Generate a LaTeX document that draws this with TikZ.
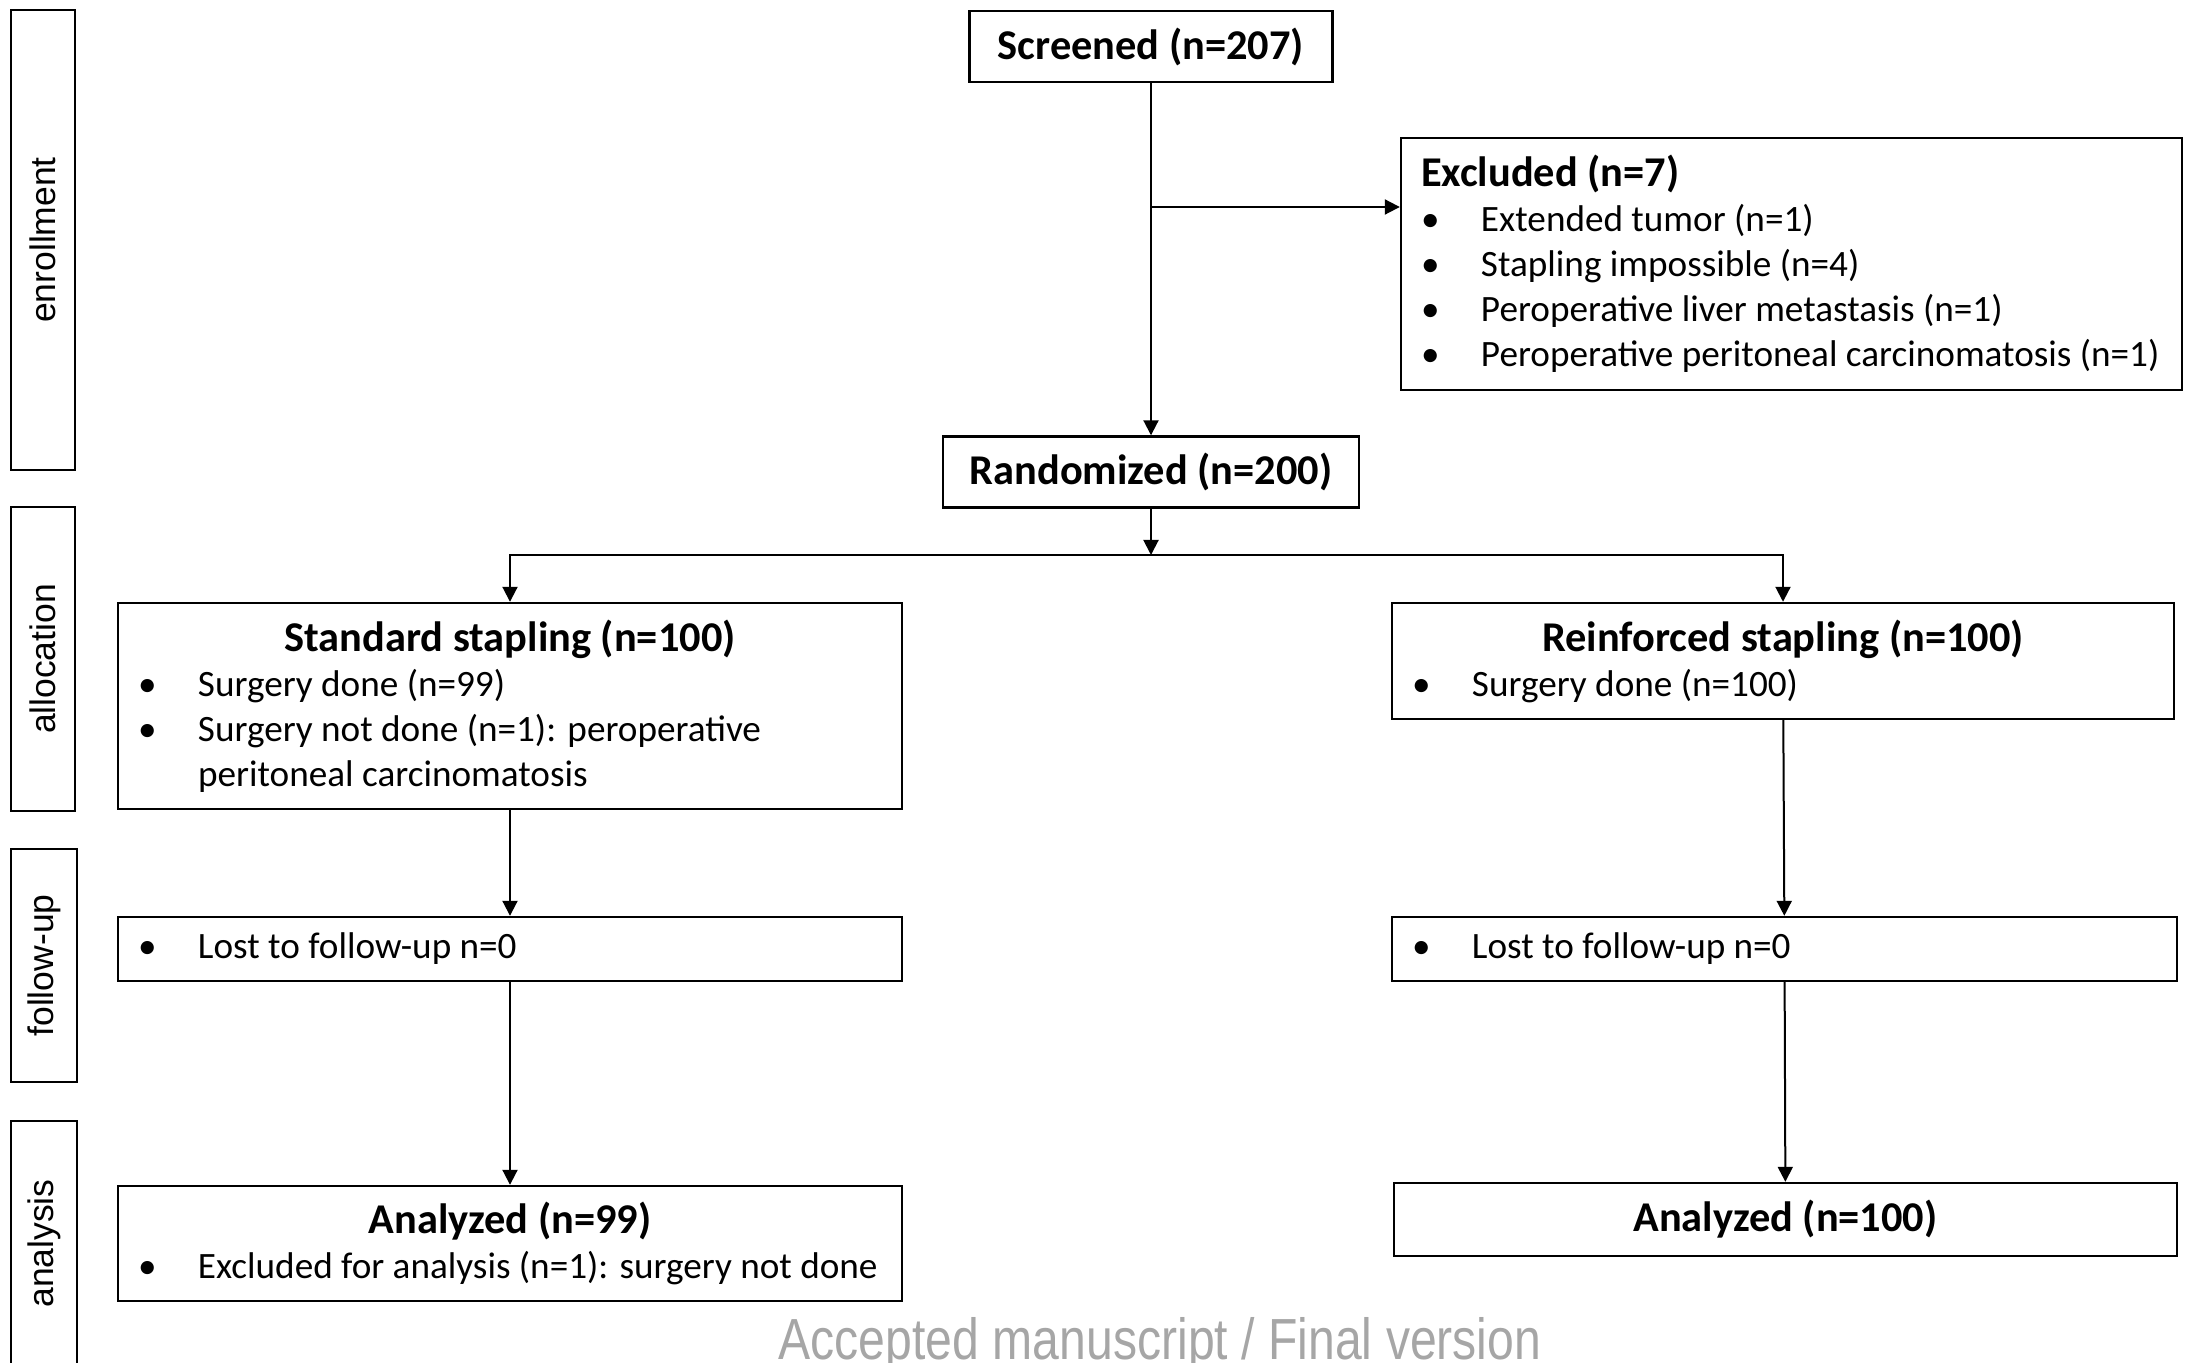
\documentclass[tikz,border=0pt]{standalone}
\usepackage{fontspec}
\setmainfont{Carlito}
\newfontfamily\sidefont{Liberation Sans}
\newfontfamily\wmfont[FakeStretch=0.83]{Liberation Sans}
\usetikzlibrary{arrows.meta}
\definecolor{wmgray}{RGB}{166,166,166}
\newcommand{\bul}{\makebox[30pt][l]{\textbullet}}
\newcommand{\ind}{\hspace*{30pt}}
\newcommand{\ttl}[1]{{\fontsize{21.2}{22.5}\selectfont\bfseries #1}}
\newcommand{\cttl}[1]{\makebox[\linewidth]{\ttl{#1}}}
\newcommand{\oneline}[1]{\makebox[\linewidth][l]{#1}}

\begin{document}
\begin{tikzpicture}
\tikzset{x=0.5pt, y=-0.5pt}
\tikzset{font=\fontsize{18.6}{22.5}\selectfont}
\tikzset{box/.style={draw, line width=1.2pt, inner xsep=10pt, inner ysep=2pt}}
\tikzset{lbox/.style={box, align=flush left}}
\tikzset{cbox/.style={box, align=center}}
\tikzset{side/.style={draw, line width=1.2pt, rotate=90, inner sep=0pt, font=\sidefont\fontsize{17.75}{20}\selectfont}}
\tikzset{arr/.style={draw, line width=1pt, -{Triangle[length=7.5pt, width=7.5pt]}}}
\tikzset{wm/.style={anchor=base, text=wmgray, font=\wmfont\fontsize{29}{30}\selectfont}}
\useasboundingbox (0,0) rectangle (2185,1363);
\node[side, minimum width=230pt, minimum height=32pt] (enr) at (43,240) {enrollment};
\node[side, minimum width=152pt, minimum height=32pt] (alc) at (43,659) {allocation};
\node[side, minimum width=116.5pt, minimum height=33pt] (fol) at (44,965.5) {follow-up};
\node[side, minimum width=122.5pt, minimum height=33pt] (ana) at (44,1243.5) {analysis};
\node[cbox, minimum width=181.5pt, minimum height=35.5pt] (scr) at (1151,46.5) {\ttl{Screened (n=207)}};
\node[lbox, text width=370.5pt, minimum height=126pt] (excl) at (1791.5,264) {\ttl{Excluded (n=7)}\\ \bul Extended tumor (n=1)\\ \bul Stapling impossible (n=4)\\ \bul Peroperative liver metastasis (n=1)\\ \oneline{\bul Peroperative peritoneal carcinomatosis (n=1)}};
\node[cbox, minimum width=208pt, minimum height=35.5pt] (rand) at (1151,472) {\ttl{Randomized (n=200)}};
\node[lbox, text width=372pt, minimum height=103pt] (std) at (510,706) {\cttl{Standard stapling (n=100)}\\ \bul Surgery done (n=99)\\ \bul Surgery not done (n=1): peroperative\\ \ind peritoneal carcinomatosis};
\node[lbox, text width=371pt, minimum height=58pt] (rein) at (1783,661) {\cttl{Reinforced stapling (n=100)}\\ \bul Surgery done (n=100)};
\node[lbox, text width=372pt, minimum height=32pt] (fuL) at (510,949) {\bul Lost to follow-up n=0};
\node[lbox, text width=372.5pt, minimum height=32pt] (fuR) at (1784.5,949) {\bul Lost to follow-up n=0};
\node[lbox, text width=372pt, minimum height=57.5pt] (anL) at (510,1243.5) {\cttl{Analyzed (n=99)}\\ \oneline{\bul Excluded for analysis (n=1): surgery not done}};
\node[cbox, minimum width=391.5pt, minimum height=36.5pt] (anR) at (1785.5,1219.5) {\ttl{Analyzed (n=100)}};
\node[wm] (mark) at (1160,1359) {Accepted manuscript / Final version};
\coordinate (jx) at (1151,207);
\coordinate (br) at (1151,555);
\draw[arr] (scr) -- (rand);
\draw[arr] (jx) -- (jx -| excl.west);
\draw[arr] (rand) -- (br);
\draw[arr] (br) -| (std);
\draw[arr] (br) -| (rein);
\draw[arr] (std) -- (fuL);
\draw[arr] (fuL) -- (anL);
\draw[arr] (rein) -- (fuR);
\draw[arr] (fuR) -- (anR);
\end{tikzpicture}
\end{document}
